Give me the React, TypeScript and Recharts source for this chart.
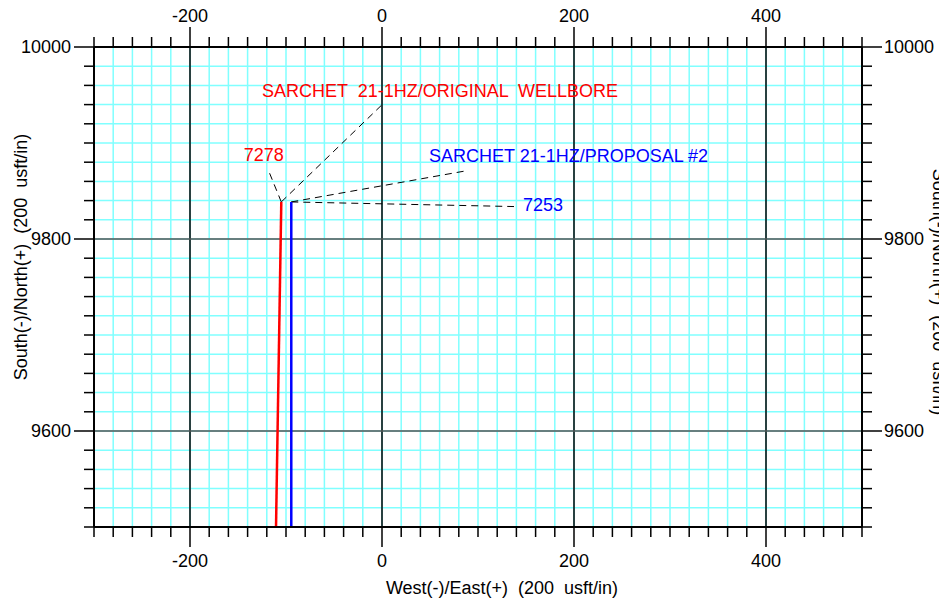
import { LineChart, Line, XAxis, YAxis, CartesianGrid, ReferenceLine, Scatter } from 'recharts'

// plot window (usft)
const X_DOMAIN: [number, number] = [-300, 500]
const Y_DOMAIN: [number, number] = [9500, 10000]

const steps = (from: number, to: number, step: number) => {
  const out: number[] = []
  for (let v = from; v <= to; v += step) out.push(v)
  return out
}

const xTicks = steps(-300, 500, 20)
const yTicks = steps(9500, 10000, 20)
const xMajor = [-200, 0, 200, 400]
const yMajor = [9600, 9800]

// well paths, West(-)/East(+) vs South(-)/North(+)
const originalWellbore = [
  { x: -110.4, y: 9500 },
  { x: -104.9, y: 9838.6 },
]
const proposal2 = [
  { x: -94.5, y: 9500 },
  { x: -94.5, y: 9838.6 },
]

// dashed leaders from the wellbore tops to their labels
const leaderLines = [
  [{ x: -104.9, y: 9838.6 }, { x: -117.7, y: 9870 }],
  [{ x: -104.9, y: 9838.6 }, { x: 1, y: 9940.8 }],
  [{ x: -94.5, y: 9838.6 }, { x: 87.5, y: 9871 }],
  [{ x: -94.5, y: 9838.6 }, { x: 137.5, y: 9833.8 }],
]

const annotations = [
  { x: -125, y: 9948, text: 'SARCHET  21-1HZ/ORIGINAL  WELLBORE', color: '#ff0000' },
  { x: -144, y: 9881.6, text: '7278', color: '#ff0000' },
  { x: 49, y: 9879.8, text: 'SARCHET 21-1HZ/PROPOSAL #2', color: '#0000ff' },
  { x: 146.9, y: 9828.9, text: '7253', color: '#0000ff' },
]

const FONT = '"Liberation Sans", Arial, sans-serif'
const FS = 18

const isMajor = (v: number) => Math.abs(v % 200) < 1e-6

const makeTick = (side: 'top' | 'bottom' | 'left' | 'right') => (props: any) => {
  const { x, y, payload } = props
  const v = payload.value
  const major = isMajor(v)
  const len = major ? 20 : 10
  let line
  let label = null
  const common = { fill: '#000', fontSize: FS, fontFamily: FONT }
  if (side === 'top') {
    line = <line x1={x} y1={y} x2={x} y2={y - len} stroke="#000" strokeWidth={1.5} />
    if (major) label = <text x={x} y={y - 25} textAnchor="middle" {...common}>{v}</text>
  } else if (side === 'bottom') {
    line = <line x1={x} y1={y} x2={x} y2={y + len} stroke="#000" strokeWidth={1.5} />
    if (major) label = <text x={x} y={y + 40} textAnchor="middle" {...common}>{v}</text>
  } else if (side === 'left') {
    line = <line x1={x} y1={y} x2={x - len} y2={y} stroke="#000" strokeWidth={1.5} />
    if (major) label = <text x={x - 23} y={y + 6} textAnchor="end" {...common}>{v}</text>
  } else {
    line = <line x1={x} y1={y} x2={x + len} y2={y} stroke="#000" strokeWidth={1.5} />
    if (major) label = <text x={x + 22} y={y + 6} textAnchor="start" {...common}>{v}</text>
  }
  return (
    <g>
      {line}
      {label}
    </g>
  )
}

const AnnotationShape = (props: any) => {
  const { cx, cy, payload } = props
  return (
    <text x={cx} y={cy} fill={payload.color} fontSize={FS} fontFamily={FONT} style={{ whiteSpace: 'pre' }}>
      {payload.text}
    </text>
  )
}

const axisLine = { stroke: '#000', strokeWidth: 2 }

export default function App() {
  return (
    <div style={{ position: 'absolute', left: 0, top: 0, background: '#fff' }}>
      <LineChart width={939} height={603} margin={{ top: 0, right: 0, bottom: 0, left: 0 }}>
        <CartesianGrid stroke="#80ffff" strokeWidth={1.5} />
        <XAxis
          xAxisId={0}
          dataKey="x"
          type="number"
          orientation="bottom"
          domain={X_DOMAIN}
          ticks={xTicks}
          interval={0}
          allowDataOverflow
          height={76}
          tickSize={0}
          tickMargin={0}
          tickLine={false}
          axisLine={axisLine}
          tick={makeTick('bottom')}
          label={{
            content: (p: any) => {
              const vb = p.viewBox
              return (
                <text
                  x={vb.x + vb.width / 2 + 24}
                  y={vb.y + 67}
                  textAnchor="middle"
                  fill="#000"
                  fontSize={FS}
                  fontFamily={FONT}
                  style={{ whiteSpace: 'pre' }}
                >
                  West(-)/East(+)  (200  usft/in)
                </text>
              )
            },
          }}
        />
        <XAxis
          xAxisId="top"
          dataKey="x"
          type="number"
          orientation="top"
          domain={X_DOMAIN}
          ticks={xTicks}
          interval={0}
          allowDataOverflow
          height={47}
          tickSize={0}
          tickMargin={0}
          tickLine={false}
          axisLine={axisLine}
          tick={makeTick('top')}
        />
        <YAxis
          yAxisId={0}
          dataKey="y"
          type="number"
          orientation="left"
          domain={Y_DOMAIN}
          ticks={yTicks}
          interval={0}
          allowDataOverflow
          width={94}
          tickSize={0}
          tickMargin={0}
          tickLine={false}
          axisLine={axisLine}
          tick={makeTick('left')}
          label={{
            content: () => {
              const cy = 257
              return (
                <text
                  x={27}
                  y={cy}
                  transform={`rotate(-90 27 ${cy})`}
                  textAnchor="middle"
                  fill="#000"
                  fontSize={FS}
                  fontFamily={FONT}
                  style={{ whiteSpace: 'pre' }}
                >
                  South(-)/North(+)  (200  usft/in)
                </text>
              )
            },
          }}
        />
        <YAxis
          yAxisId="right"
          dataKey="y"
          type="number"
          orientation="right"
          domain={Y_DOMAIN}
          ticks={yTicks}
          interval={0}
          allowDataOverflow
          width={77}
          tickSize={0}
          tickMargin={0}
          tickLine={false}
          axisLine={axisLine}
          tick={makeTick('right')}
          label={{
            content: () => {
              const cy = 292
              return (
                <text
                  x={933}
                  y={cy}
                  transform={`rotate(90 933 ${cy})`}
                  textAnchor="middle"
                  fill="#000"
                  fontSize={FS}
                  fontFamily={FONT}
                  style={{ whiteSpace: 'pre' }}
                >
                  South(-)/North(+)  (200  usft/in)
                </text>
              )
            },
          }}
        />

        {xMajor.map((v) => (
          <ReferenceLine key={`vx${v}`} x={v} stroke="#000" strokeWidth={1.5} />
        ))}
        {yMajor.map((v) => (
          <ReferenceLine key={`hy${v}`} y={v} stroke="#555" strokeWidth={1.5} />
        ))}

        {/* hidden series so the top / right axes are bound to data */}
        <Line xAxisId="top" yAxisId="right" data={proposal2} dataKey="y" stroke="none" dot={false} isAnimationActive={false} />

        {leaderLines.map((seg, i) => (
          <Line
            key={`leader${i}`}
            data={seg}
            dataKey="y"
            stroke="#000"
            strokeWidth={1}
            strokeDasharray="7 5"
            dot={false}
            isAnimationActive={false}
          />
        ))}

        <Line data={originalWellbore} dataKey="y" stroke="#ff0000" strokeWidth={2.5} dot={false} isAnimationActive={false} />
        <Line data={proposal2} dataKey="y" stroke="#0000ff" strokeWidth={2.5} dot={false} isAnimationActive={false} />

        <Scatter data={annotations} dataKey="y" shape={<AnnotationShape />} isAnimationActive={false} />
      </LineChart>
    </div>
  )
}
